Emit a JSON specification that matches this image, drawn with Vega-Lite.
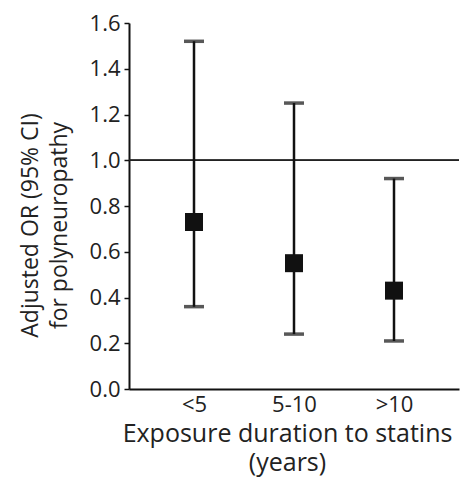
{
  "$schema": "https://vega.github.io/schema/vega-lite/v6.json",
  "autosize": "none",
  "padding": {"left": 129, "top": 23, "right": 2, "bottom": 88},
  "width": 330,
  "height": 366,
  "background": "white",
  "config": {
    "font": "Open Sans",
    "view": {"stroke": null},
    "axis": {"grid": false, "domainColor": "#111", "domainWidth": 2, "tickColor": "#111", "tickWidth": 1.5, "labelColor": "#222", "titleColor": "#222", "titleFontWeight": "normal"}
  },
  "data": {"values": [
    {"d": "<5", "or": 0.73, "lo": 0.36, "hi": 1.52},
    {"d": "5-10", "or": 0.55, "lo": 0.24, "hi": 1.25},
    {"d": ">10", "or": 0.43, "lo": 0.21, "hi": 0.92}
  ]},
  "encoding": {
    "x": {"field": "d", "type": "ordinal", "sort": ["<5", "5-10", ">10"],
      "scale": {"type": "point", "padding": 0.65},
      "axis": {"labelAngle": 0, "ticks": false, "labelFontSize": 22, "labelPadding": 5,
        "title": ["Exposure duration to statins", "(years)"], "titleFontSize": 25, "titleBaseline": "alphabetic", "titleAlign": "center", "titleAnchor": "start", "titleX": 158, "titleY": 52, "titleLineHeight": 29}}
  },
  "layer": [
    {"mark": {"type": "rule", "color": "#222", "strokeWidth": 1.5}, "encoding": {"y": {"datum": 1, "type": "quantitative", "axis": {"values": [0, 0.2, 0.4, 0.6, 0.8, 1.0, 1.2, 1.4, 1.6], "format": ".1f", "tickSize": 5, "labelFontSize": 22, "labelPadding": 4,
            "title": ["Adjusted OR (95% CI)", "for polyneuropathy"], "titleFontSize": 23, "titleBaseline": "alphabetic", "titleAlign": "center", "titleAnchor": "start", "titleX": -92, "titleY": 202, "titleLineHeight": 29}, "scale": {"domain": [0, 1.6], "nice": false}}, "x": {"value": 0}, "x2": {"value": 330}}},
    {"mark": {"type": "rule", "color": "#111", "strokeWidth": 2.5},
      "encoding": {
        "y": {"field": "lo", "type": "quantitative"},
        "y2": {"field": "hi"}}},
    {"mark": {"type": "tick", "color": "#111", "size": 20, "thickness": 3.5, "orient": "horizontal"}, "encoding": {"y": {"field": "lo", "type": "quantitative"}}},
    {"mark": {"type": "tick", "color": "#111", "size": 20, "thickness": 3.5, "orient": "horizontal"}, "encoding": {"y": {"field": "hi", "type": "quantitative"}}},
    {"mark": {"type": "point", "shape": "square", "filled": true, "size": 324, "color": "#111", "opacity": 1}, "encoding": {"y": {"field": "or", "type": "quantitative"}}}
  ]
}
